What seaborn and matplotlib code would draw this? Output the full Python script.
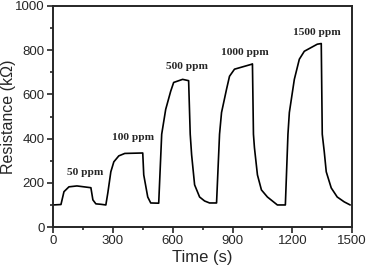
import matplotlib
matplotlib.use('Agg')
import seaborn as sns
from matplotlib import pyplot as plt
from matplotlib.ticker import MultipleLocator

# response curve
time_s = [0, 40, 55, 80, 120, 190, 200, 215, 240, 265, 275, 290, 305, 330, 360, 450,
          455, 475, 490, 530, 545, 565, 590, 605, 650, 680, 688, 695, 710, 735, 760, 785,
          820, 835, 845, 870, 885, 910, 995, 1000, 1005, 1010, 1025, 1045, 1075, 1125, 1165,
          1178, 1185, 1210, 1235, 1260, 1325, 1345, 1350, 1360, 1370, 1395, 1425, 1460, 1490]
resistance = [100, 102, 160, 182, 186, 178, 123, 105, 103, 100, 155, 250, 295, 322, 333, 335,
              236, 136, 109, 108, 420, 532, 614, 654, 668, 662, 420, 327, 191, 136, 118, 109,
              109, 420, 518, 623, 682, 714, 736, 738, 420, 359, 236, 168, 136, 100, 100,
              420, 518, 668, 759, 795, 827, 830, 420, 341, 250, 177, 136, 114, 100]

labels = ['50 ppm', '100 ppm', '500 ppm', '1000 ppm', '1500 ppm']
label_x = [160, 402, 670, 962, 1325]
label_y = [245, 405, 727, 791, 882]

sns.set_style('ticks')
plt.rcParams['font.family'] = ['Liberation Sans', 'DejaVu Sans']

fig = plt.figure(figsize=(3.68, 2.7), dpi=100)
ax = fig.add_axes([0.144, 0.159, 0.813, 0.819])
sns.lineplot(x=time_s, y=resistance, ax=ax, color='black', linewidth=1.2)

for txt, x, y in zip(labels, label_x, label_y):
    ax.text(x, y, txt, ha='center', va='center', fontsize=8.2, fontweight='bold',
            family=['Liberation Serif', 'DejaVu Serif'])

ax.set_xlim(0, 1500)
ax.set_ylim(0, 1000)
ax.xaxis.set_major_locator(MultipleLocator(300))
ax.xaxis.set_minor_locator(MultipleLocator(150))
ax.yaxis.set_major_locator(MultipleLocator(200))
ax.yaxis.set_minor_locator(MultipleLocator(100))
ax.tick_params(which='major', length=4, width=1.2, labelsize=9.5, pad=2)
ax.tick_params(which='minor', length=2.5, width=1.2)
for s in ax.spines.values():
    s.set_linewidth(1.4)
ax.set_xlabel('Time (s)', fontsize=12, labelpad=2)
ax.set_ylabel('Resistance (k\u03a9)', fontsize=11.5)
ax.yaxis.set_label_coords(-0.122, 0.5)

fig.savefig('out.png', dpi=100)
